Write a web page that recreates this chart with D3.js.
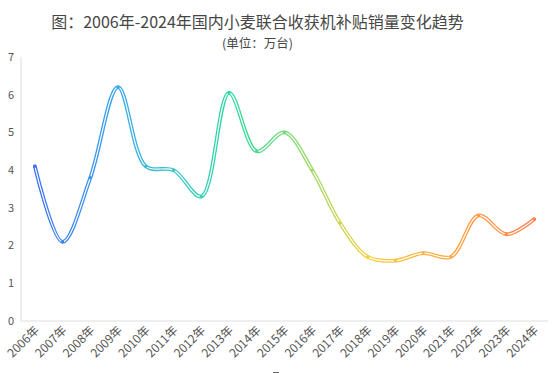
<!DOCTYPE html>
<html>
<head>
<meta charset="utf-8">
<script src="https://cdn.jsdelivr.net/npm/d3@7/dist/d3.min.js"></script>
<style>
  body { margin: 0; background: #fff; }
  text { font-family: "Noto Sans CJK SC", "Noto Sans", sans-serif; }
</style>
</head>
<body>
<svg id="chart" width="554" height="373"></svg>
<script>

// data
var years = ["2006年","2007年","2008年","2009年","2010年","2011年","2012年","2013年","2014年","2015年",
             "2016年","2017年","2018年","2019年","2020年","2021年","2022年","2023年","2024年"];
var sales = [4.1, 2.1, 3.8, 6.2, 4.1, 4.0, 3.3, 6.05, 4.5, 5.0, 4.0, 2.6, 1.7, 1.6, 1.8, 1.7, 2.8, 2.3, 2.7];
var yTicks = [0, 1, 2, 3, 4, 5, 6, 7];

var svg = d3.select("#chart");

var xScale = d3.scaleBand().domain(years).range([21, 548]);
var yScale = d3.scaleLinear().domain([0, 7]).range([321, 57]);

// title
svg.append("text")
   .attr("x", 257.5).attr("y", 28)
   .attr("text-anchor", "middle")
   .attr("font-size", 16)
   .attr("fill", "#464646")
   .text("图：2006年-2024年国内小麦联合收获机补贴销量变化趋势");

svg.append("text")
   .attr("x", 257.5).attr("y", 47.5)
   .attr("text-anchor", "middle")
   .attr("font-size", 12.5)
   .attr("fill", "#464646")
   .text("(单位：万台)");

// axes lines
svg.append("line")
   .attr("x1", 21).attr("x2", 21)
   .attr("y1", yScale(7)).attr("y2", yScale(0))
   .attr("stroke", "#dedede");

svg.append("line")
   .attr("x1", 21).attr("x2", 548)
   .attr("y1", yScale(0)).attr("y2", yScale(0))
   .attr("stroke", "#dedede");

// y tick labels
svg.selectAll(".ytick")
   .data(yTicks)
   .enter()
   .append("text")
   .attr("class", "ytick")
   .attr("x", 14)
   .attr("y", d => yScale(d))
   .attr("dy", "0.35em")
   .attr("text-anchor", "end")
   .attr("font-size", 11)
   .attr("fill", "#555")
   .text(d => d);

// x tick labels, rotated
svg.selectAll(".xtick")
   .data(years)
   .enter()
   .append("text")
   .attr("class", "xtick")
   .attr("text-anchor", "end")
   .attr("font-size", 12)
   .attr("fill", "#555")
   .attr("transform", d => "translate(" + (xScale(d) + xScale.bandwidth()/2 + 5) + "," + 331 + ") rotate(-45)")
   .text(d => d);

// gradient along the line
var x0 = xScale(years[0]) + xScale.bandwidth()/2;
var x1 = xScale(years[years.length-1]) + xScale.bandwidth()/2;

var grad = svg.append("defs").append("linearGradient")
   .attr("id", "lineGrad")
   .attr("gradientUnits", "userSpaceOnUse")
   .attr("x1", x0).attr("x2", x1)
   .attr("y1", 0).attr("y2", 0);

var stops = [
  [0.00, "#3d6ff5"],
  [0.17, "#3aa8ea"],
  [0.28, "#38c6c6"],
  [0.40, "#2fd9a0"],
  [0.55, "#9bd868"],
  [0.67, "#f6cd3a"],
  [0.88, "#ff9b47"],
  [1.00, "#ff7f50"]
];
grad.selectAll("stop")
    .data(stops)
    .enter()
    .append("stop")
    .attr("offset", d => d[0])
    .attr("stop-color", d => d[1]);

var data = years.map((y, i) => [y, sales[i]]);

var line = d3.line()
             .x(d => xScale(d[0]) + xScale.bandwidth()/2)
             .y(d => yScale(d[1]))
             .curve(d3.curveCatmullRom.alpha(0.5));

svg.append("path")
   .datum(data)
   .attr("d", line)
   .attr("fill", "none")
   .attr("stroke", "url(#lineGrad)")
   .attr("stroke-width", 3.8)
   .attr("stroke-linecap", "round");

svg.append("path")
   .datum(data)
   .attr("d", line)
   .attr("fill", "none")
   .attr("stroke", "#fff")
   .attr("stroke-width", 1.2)
   .attr("stroke-linecap", "round");

// small point markers
svg.selectAll(".dot")
   .data(data)
   .enter()
   .append("circle")
   .attr("class", "dot")
   .attr("cx", d => xScale(d[0]) + xScale.bandwidth()/2)
   .attr("cy", d => yScale(d[1]))
   .attr("r", 1.6)
   .attr("fill", "url(#lineGrad)");

// legend marker, mostly cut off at bottom
svg.append("line")
   .attr("x1", 273).attr("x2", 279)
   .attr("y1", 372.5).attr("y2", 372.5)
   .attr("stroke", "#666")
   .attr("stroke-width", 1);

</script>
</body>
</html>
